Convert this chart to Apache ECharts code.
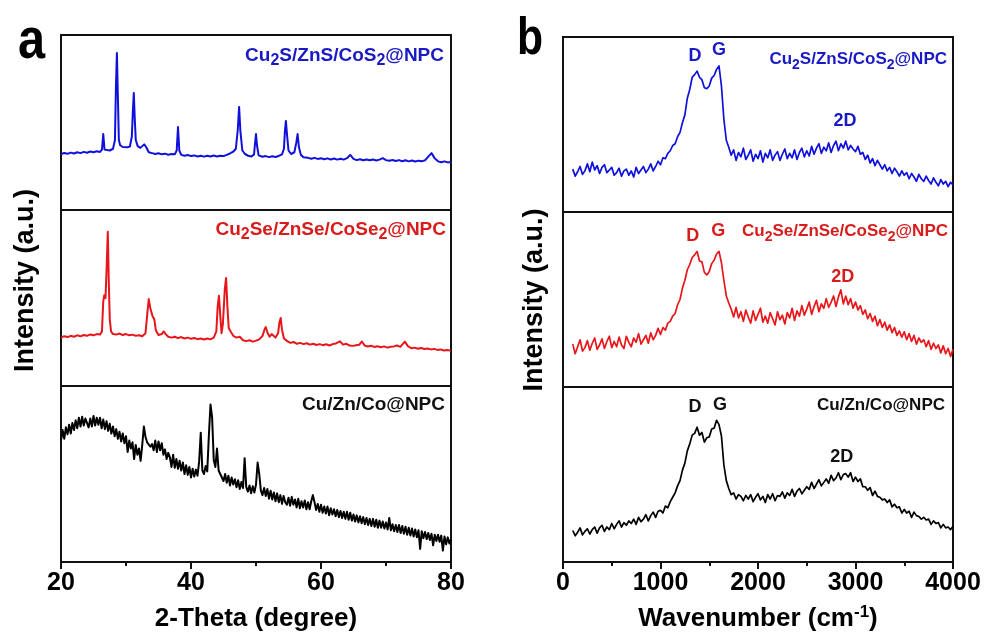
<!DOCTYPE html>
<html><head><meta charset="utf-8">
<script src="https://cdn.jsdelivr.net/npm/echarts@6/dist/echarts.min.js"></script>
<style>html,body{margin:0;padding:0;background:#fff}#c{width:985px;height:639px}</style>
</head><body><div id="c"></div>
<script>
// ---------------- DATA ----------------
const xrdTicks = [20, 40, 60, 80];
const ramanTicks = [0, 1000, 2000, 3000, 4000];
const xrdTitle = '2-Theta (degree)';
const ramanTitle = ['Wavenumber (cm', '-1', ')'];
const yTitle = 'Intensity (a.u.)';
const sampleNames = [
  [['Cu', 'n'], ['2', 's'], ['S/ZnS/CoS', 'n'], ['2', 's'], ['@NPC', 'n']],
  [['Cu', 'n'], ['2', 's'], ['Se/ZnSe/CoSe', 'n'], ['2', 's'], ['@NPC', 'n']],
  [['Cu/Zn/Co@NPC', 'n']]
];
const bandNames = ['D', 'G', '2D'];

// XRD (a), [2theta, intensity a.u.]
const xrdS = [[20,32],[20.5,32.6],[21,32.1],[21.5,32.8],[22,32.3],[22.5,33.0],[23,32.5],[23.5,33.2],[24,32.7],[24.5,33.4],[25,33.0],[25.5,33.6],[26,33.2],[26.3,34.5],[26.5,43.4],[26.7,34.5],[27,33.5],[27.5,34],[28,35],[28.3,40],[28.45,70],[28.6,89.7],[28.75,65],[28.9,40],[29.1,37],[29.5,36],[29.8,36.5],[30.2,35.8],[30.6,36.3],[30.9,42],[31.05,56],[31.2,66.9],[31.35,52],[31.5,40],[31.8,36.5],[32.2,35.5],[32.5,36.5],[32.8,37.5],[33.1,36],[33.5,33],[34,32.5],[34.5,32],[35,32.4],[35.5,31.8],[36,32.2],[36.5,31.6],[37,32],[37.5,31.8],[37.8,34],[38,47.4],[38.2,34],[38.5,31.5],[39,31],[39.5,31.4],[40,30.8],[40.5,31.2],[41,30.6],[41.5,31],[42,30.5],[42.5,31],[43,30.6],[43.5,31.1],[44,30.6],[44.5,31],[45,30.8],[45.5,31.5],[46,32.3],[46.5,33.3],[46.9,35],[47.2,46],[47.4,58.9],[47.6,45],[47.9,34],[48.3,32],[48.8,31],[49.3,30.6],[49.7,31.8],[49.85,38],[50,43.4],[50.15,37],[50.4,31.2],[51,30.4],[51.5,30.8],[52,30.2],[52.5,30.7],[53,30.3],[53.5,30.9],[54,31.8],[54.3,35],[54.45,45],[54.6,50.9],[54.75,44],[55,34],[55.4,32],[55.9,33],[56.2,38.5],[56.4,43.4],[56.6,36],[56.9,31.5],[57.3,30.2],[58,29.8],[58.5,29.3],[59,29.8],[59.5,29.2],[60,29.6],[60.5,29],[61,29.5],[61.5,28.9],[62,29.4],[62.5,28.8],[63,29.3],[63.5,28.8],[64,29.6],[64.5,31.5],[65,29.2],[65.5,28.5],[66,29],[66.5,28.4],[67,28.9],[67.5,28.4],[68,28.9],[68.5,28.3],[69,28.8],[69.5,29.6],[70,28.5],[70.5,28.1],[71,28.6],[71.5,28],[72,28.5],[72.5,27.9],[73,28.4],[73.5,27.8],[74,28.3],[74.5,27.7],[75,28.2],[75.5,27.8],[76,28.4],[76.5,30.5],[77,32.5],[77.5,29.5],[78,27.8],[78.5,27.3],[79,27.8],[79.5,27.2],[80,27.5]];

const xrdSe = [[20,27.5],[20.5,28.3],[21,27.8],[21.5,28.5],[22,28],[22.5,28.8],[23,28.2],[23.5,29],[24,28.5],[24.5,29.3],[25,28.8],[25.5,29.5],[26,29.2],[26.3,31],[26.5,48],[26.65,51.5],[26.85,50],[27.05,70],[27.2,87.7],[27.35,60],[27.5,38],[27.7,31],[28,29.5],[28.5,29.2],[29,29.8],[29.5,29],[30,29.5],[30.5,28.8],[31,29.2],[31.5,28.5],[32,28.8],[32.5,28.3],[33,30],[33.3,42],[33.5,49.4],[33.75,44],[34.1,39.5],[34.35,38],[34.6,31.5],[35,29],[35.5,29.5],[35.8,31],[36.1,29.5],[36.5,28],[37,27.5],[37.5,28],[38,27.2],[38.5,27.8],[39,27],[39.5,27.5],[40,26.8],[40.5,27.3],[41,26.6],[41.5,27],[42,26.4],[42.5,27],[43,26.5],[43.5,27.5],[43.9,31],[44.1,45],[44.3,51.3],[44.5,40],[44.7,30],[44.9,35],[45.2,55],[45.4,61.4],[45.6,45],[45.8,33],[46.1,31],[46.5,28.5],[47,27.5],[47.5,28],[48,26],[48.5,25.5],[49,26],[49.5,25.2],[50,25.8],[50.5,26.5],[51,28.5],[51.3,32],[51.5,33.5],[51.8,30],[52.1,28],[52.4,29.5],[52.7,28.5],[53,27.5],[53.4,30],[53.6,36],[53.8,38.6],[54,32],[54.3,27],[54.8,25.5],[55.3,24.5],[55.8,25],[56.3,24],[56.8,24.5],[57.3,23.8],[57.8,24.3],[58.3,23.5],[58.8,24],[59.3,23.3],[59.8,23.8],[60.3,23.2],[60.8,23.7],[61.3,23],[61.8,23.8],[62.3,24.2],[62.9,25.4],[63.4,23.5],[63.9,24],[64.4,23],[64.9,22.8],[65.4,23.2],[65.9,23.5],[66.3,25.3],[66.7,23],[67.2,22.4],[67.7,22.9],[68.2,22.2],[68.7,22.6],[69.2,22],[69.7,22.5],[70.2,21.8],[70.7,22.3],[71.2,22.5],[71.7,23],[72.2,22.2],[72.9,25.2],[73.4,22.5],[73.9,21.5],[74.4,21.8],[74.9,21.2],[75.4,21.6],[75.9,21],[76.4,21.3],[76.9,20.8],[77.4,21.1],[77.9,20.5],[78.4,20.8],[78.9,20.2],[79.4,20.5],[80,20.1]];

// Cu/Zn/Co@NPC XRD sampled every 0.25 deg from 20
const xrdMStart = 20, xrdMStep = 0.25;
const xrdM = [
 69,75,70,76.5,72.5,78,73,79,
 75,80.5,76,82,77,82.5,77.5,81.5,
 82.5,76.5,81.5,77,83,77.5,82,78,
 82,76,81,75.5,80,74.5,78.5,73,
 77,71.5,75.5,70,74,68.5,73,67.5,
 71.5,62.5,69,64.5,68,58.5,66.5,61,
 64.5,57.5,66.5,77,71,68,69,65.5,
 67,63.5,69,62.5,68.5,63.5,67.5,61,
 64,58.5,62,59.5,54,61,53.5,58.5,
 53,57.5,52,56.5,50,55,49.5,54,
 48,53,48.5,52.5,49,57,73.5,52,
 50,54.5,51.5,72,89.5,82,58,54,
 64.5,52,50,48,46,50,45,49,
 43.5,48,44,47,42.5,46.5,41.5,45.5,
 42,59,42.5,40,43.5,39,43,39.5,
 44,56.5,50,40.5,38,42,37.5,41.5,
 36,40.5,35.5,39.5,34.5,39,34,38,
 33,37.5,34,32.5,36.5,32,37,32.5,
 35.5,31,36,30.5,34.5,31,35,30,
 34,30,34.5,38,34,29.5,33,28.5,
 32.5,28,31.5,27.5,31.5,26.5,30.5,27,
 30,26,29.5,25.5,29,25,28.5,24.5,
 28.5,24,28,23.5,27,23,26.5,22.5,
 26,22,25.5,21.5,25,21,24.5,20.5,
 24.5,20,24,19.5,23.5,19.5,23,19,
 22.5,18.5,25,18,21.5,17.5,21,17,
 21,16.5,20.5,16,20,15.5,19.5,15,
 19,14.5,18.5,14,18,7.5,17.5,13.5,
 17,13,16.5,12.5,16,9.5,15.5,12,
 15.5,11.5,15,6.5,14.5,10,14,10.5,
 13];

// Raman (b) sampled every 25 cm-1 from 100
const ramanStart = 100, ramanStep = 25;
const ramanS = [
 24.5,20.5,23.0,26.0,21.5,23.5,27.5,23.0,
 28.5,24.0,26.5,22.0,25.5,27.0,22.5,24.0,
 25.5,21.0,22.5,25.0,20.5,23.5,24.5,21.0,
 23.5,20.0,25.5,22.0,24.0,26.0,22.5,24.5,
 27.5,23.5,26.0,29.0,27.0,31.0,30.5,33.5,
 35.0,38.0,39.0,43.0,45.5,51.0,55.5,65.0,
 70.0,77.0,78.5,80.5,77.0,75.5,71.0,70.5,
 72.0,76.5,78.0,81.5,83.5,72.0,53.0,41.0,
 37.0,32.5,35.5,29.5,34.0,31.5,36.5,30.0,
 32.5,35.5,29.0,33.0,30.5,35.0,28.5,33.5,
 31.0,35.5,29.5,32.5,34.5,29.5,33.0,36.0,
 30.5,33.5,31.0,35.5,30.0,34.0,36.5,31.5,
 35.0,32.0,37.5,33.0,36.5,39.0,33.5,37.0,
 35.0,39.5,34.0,38.0,40.5,35.0,39.0,36.5,
 40.5,35.5,38.0,36.0,34.5,37.5,33.0,34.0,
 30.0,32.5,28.0,30.5,26.5,29.5,27.0,24.5,
 27.0,23.5,25.5,22.0,25.0,23.0,20.5,23.5,
 21.0,22.5,19.0,22.0,20.0,17.5,21.5,19.0,
 17.5,20.5,18.0,16.0,19.5,17.0,15.0,18.5,
 16.0,17.5,14.5,17.0,15.5];
const ramanSe = [
 24.5,19.0,23.0,27.0,20.5,22.5,26.5,21.0,
 25.0,28.0,21.5,24.0,27.5,22.0,26.0,29.0,
 22.5,26.0,23.0,28.5,24.0,22.0,29.0,25.5,
 23.0,28.0,25.5,30.5,24.5,27.0,29.5,25.0,
 31.0,27.0,29.5,33.5,30.0,34.0,32.5,36.5,
 37.5,40.5,42.0,47.0,50.0,56.5,61.0,67.0,
 70.0,74.0,75.5,77.5,72.0,71.5,65.5,64.0,
 66.0,70.5,72.5,76.0,77.5,71.0,61.0,52.0,
 48.0,44.5,40.0,45.5,39.5,43.0,37.5,44.0,
 40.0,36.5,43.5,38.0,41.5,45.0,37.0,40.5,
 36.5,42.5,39.0,35.5,43.0,38.5,41.0,36.0,
 42.5,39.5,45.0,38.0,43.5,40.5,46.5,41.0,
 44.5,48.5,41.5,46.0,49.5,43.0,47.5,45.0,
 50.5,45.5,48.5,52.0,46.0,51.5,55.5,47.5,
 52.0,47.0,50.5,45.0,48.5,44.0,46.5,41.5,
 44.0,39.0,42.0,37.5,40.5,35.0,38.5,34.0,
 37.0,32.5,35.5,31.0,34.0,29.5,32.0,28.5,
 31.5,27.0,30.5,26.0,29.5,24.5,28.0,25.5,
 27.0,23.0,26.5,21.5,25.0,22.0,24.0,19.5,
 23.5,19.0,22.0,17.5,21.5];
const ramanM = [
 18.0,15.0,17.0,19.5,15.5,17.5,19.0,16.0,
 18.5,20.0,16.5,19.5,21.0,17.5,20.0,18.5,
 22.0,19.0,21.5,23.5,20.0,22.5,21.0,23.5,
 22.0,24.5,21.5,25.5,23.0,24.5,27.0,23.5,
 26.5,28.5,25.5,29.0,29.5,28.0,32.0,31.0,
 34.5,37.0,39.5,43.5,46.5,52.5,56.5,63.5,
 67.5,72.5,73.5,77.0,72.5,74.0,68.5,71.0,
 71.5,76.0,76.5,81.0,78.5,72.0,55.5,46.5,
 42.0,38.5,39.5,36.0,38.5,37.5,35.0,38.0,
 36.0,38.5,34.5,37.0,39.0,35.5,37.5,34.0,
 38.5,36.0,39.0,35.0,38.0,37.5,40.0,36.5,
 39.5,38.0,41.5,37.5,40.5,42.0,39.0,41.0,
 43.0,41.5,45.5,42.0,44.5,47.0,43.5,45.5,
 47.5,45.0,49.5,46.5,48.0,51.0,47.0,50.0,
 50.5,48.5,51.0,46.0,48.5,46.0,47.5,43.0,
 43.0,41.0,42.5,38.0,40.5,37.5,37.0,35.5,
 36.0,34.0,35.5,31.5,33.0,31.0,31.5,28.0,
 30.0,28.0,29.0,25.5,28.5,26.5,26.0,24.5,
 25.5,24.0,24.5,21.5,23.5,22.0,22.5,19.5,
 21.5,19.5,20.0,18.5,20.5];

// ---------------- STYLE / LAYOUT ----------------
const FONT = '"Liberation Sans", Arial, Helvetica, sans-serif';
const BLUE = '#1010dc', RED = '#e8161a', BLACK = '#000000';
const BLUE_T = '#1a1ac4', RED_T = '#d81c1c', BLACK_T = '#111111';
const lineColors = [BLUE, RED, BLACK];
const textColors = [BLUE_T, RED_T, BLACK_T];

const panelA = { left: 61, width: 390, rows: [[35,175],[210,176],[386,176]] };
const panelB = { left: 563, width: 390, rows: [[37,175],[212,175],[387,175]] };

const chart = echarts.init(document.getElementById('c'), null, { renderer: 'canvas' });

const grids = [], xAxes = [], yAxes = [], series = [];
function addPanel(p, ticks, name, datasets, widths, isRaman) {
  p.rows.forEach((r, k) => {
    const gi = grids.length;
    grids.push({ left: p.left, width: p.width, top: r[0], height: r[1], show: true,
      borderColor: '#111', borderWidth: 2, backgroundColor: 'transparent', containLabel: false });
    const bottom = k === p.rows.length - 1;
    const ax = { type: 'value', gridIndex: gi, min: ticks[0], max: ticks[ticks.length - 1],
      interval: ticks[1] - ticks[0], splitLine: { show: false }, minorSplitLine: { show: false } };
    if (bottom) {
      Object.assign(ax, {
        axisLine: { show: true, onZero: false, lineStyle: { color: '#111', width: 2 } },
        axisTick: { show: true, inside: false, length: 7, lineStyle: { color: '#111', width: 2 } },
        minorTick: { show: true, splitNumber: 2, length: 4, lineStyle: { color: '#111', width: 2 } },
        axisLabel: { show: true, margin: 9, color: '#000', fontSize: 25, fontWeight: 'bold', fontFamily: FONT,
          showMinLabel: true, showMaxLabel: true, formatter: v => String(v) },
        name: name, nameLocation: 'middle', nameGap: isRaman ? 42 : 44,
        nameTextStyle: isRaman ? {
          rich: {
            n: { fontSize: 26, fontWeight: 'bold', fontFamily: FONT, color: '#000', lineHeight: 30 },
            sup: { fontSize: 17, fontWeight: 'bold', fontFamily: FONT, color: '#000', lineHeight: 12, verticalAlign: 'top' }
          }
        } : { fontSize: 26, fontWeight: 'bold', fontFamily: FONT, color: '#000' }
      });
    } else {
      Object.assign(ax, { axisLine: { show: false }, axisTick: { show: false }, axisLabel: { show: false } });
    }
    xAxes.push(ax);
    yAxes.push({ type: 'value', gridIndex: gi, min: 0, max: 100, show: false });
    series.push({ type: 'line', xAxisIndex: gi, yAxisIndex: gi, data: datasets[k], showSymbol: false, symbol: 'none',
      silent: true, animation: false, lineStyle: { color: lineColors[k], width: widths[k], join: 'round' }, z: 3 });
  });
}

const toPairs = (arr, start, step) => arr.map((v, i) => [start + i * step, v]);

addPanel(panelA, xrdTicks, xrdTitle, [xrdS, xrdSe, toPairs(xrdM, xrdMStart, xrdMStep)], [2, 2, 2], false);
addPanel(panelB, ramanTicks, '{n|' + ramanTitle[0] + '}{sup|' + ramanTitle[1] + '}{n|' + ramanTitle[2] + '}',
  [toPairs(ramanS, ramanStart, ramanStep), toPairs(ramanSe, ramanStart, ramanStep), toPairs(ramanM, ramanStart, ramanStep)],
  [1.7, 1.7, 1.7], true);

// ---------------- TEXT ANNOTATIONS ----------------
function richName(parts, size, color) {
  const sub = Math.round(size * 0.82);
  return {
    text: parts.map(p => '{' + p[1] + '|' + p[0] + '}').join(''),
    rich: {
      n: { fontSize: size, fontWeight: 'bold', fontFamily: FONT, fill: color, lineHeight: 26 },
      s: { fontSize: sub, fontWeight: 'bold', fontFamily: FONT, fill: color, lineHeight: 10, verticalAlign: 'bottom' }
    }
  };
}
const graphics = [];
function txt(x, y, text, size, color, opts) {
  opts = opts || {};
  graphics.push({ type: 'text', x: x, y: y, rotation: opts.rot || 0, scaleX: opts.sx || 1, silent: true, z: 10,
    style: { text: text, fontSize: size, fontWeight: 'bold', fontFamily: opts.family || FONT, fill: color,
      align: 'center', verticalAlign: 'middle', textAlign: 'center', textVerticalAlign: 'middle' } });
}
function rtxt(x, y, parts, size, color) {
  const r = richName(parts, size, color);
  graphics.push({ type: 'text', x: x, y: y, silent: true, z: 10,
    style: { text: r.text, rich: r.rich, fill: color, fontSize: size, fontWeight: 'bold', fontFamily: FONT,
      align: 'right', verticalAlign: 'middle', textAlign: 'right', textVerticalAlign: 'middle' } });
}

txt(31.5, 42, 'a', 58, '#000', { sx: 0.84 });
txt(530, 40, 'b', 52, '#000', { sx: 0.82 });
txt(26, 280.5, yTitle, 27, '#000', { rot: Math.PI / 2 });
txt(534.5, 300, yTitle, 27, '#000', { rot: Math.PI / 2 });

const titlePosA = [[444, 55.8], [446, 230], [445, 405]];
const titlePosB = [[947, 59], [948, 231], [945, 405]];
sampleNames.forEach((parts, k) => {
  rtxt(titlePosA[k][0], titlePosA[k][1], parts, 19, textColors[k]);
  rtxt(titlePosB[k][0], titlePosB[k][1], parts, 17, textColors[k]);
});

const bandPos = [
  [[695, 55.8], [719, 50], [845, 121]],
  [[692.7, 236], [718.3, 231], [842.7, 277.5]],
  [[695, 407], [720, 405.5], [841.7, 457.5]]
];
bandPos.forEach((row, k) => row.forEach((p, j) =>
  txt(p[0], p[1], bandNames[j], 18, textColors[k])));

chart.setOption({
  animation: false,
  backgroundColor: '#ffffff',
  grid: grids, xAxis: xAxes, yAxis: yAxes, series: series,
  graphic: graphics
});
</script></body></html>
